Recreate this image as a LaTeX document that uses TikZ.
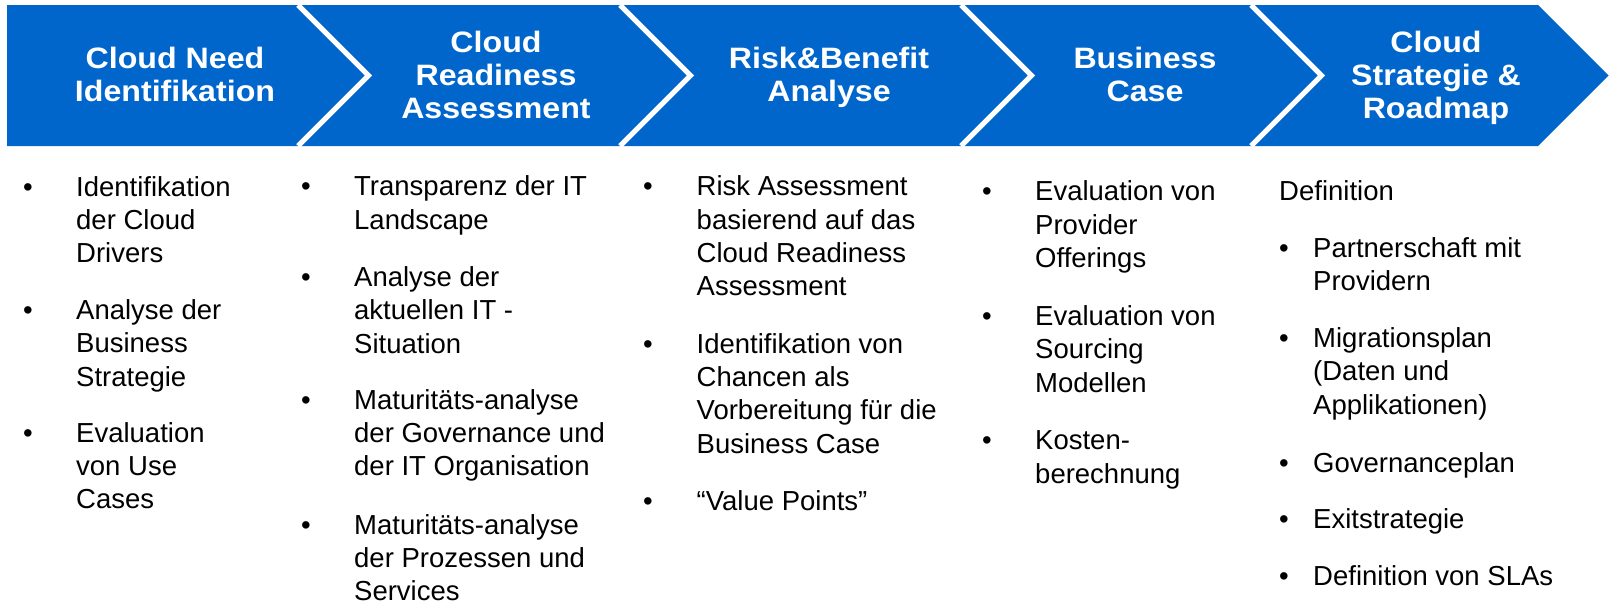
\documentclass[tikz,border=0pt]{standalone}
\usepackage{fontspec}
\setmainfont{Liberation Sans}
\newfontfamily\headfont[FakeStretch=1.09]{Liberation Sans}
\definecolor{chevblue}{RGB}{0,102,204}
\begin{document}
\begin{tikzpicture}[x=1pt,y=-1pt,
  head/.style={text=white, font=\headfont\fontsize{29.5}{33}\selectfont\bfseries, align=center, anchor=base, inner sep=0pt},
  item/.style={font=\fontsize{27.5}{33.4}\selectfont, align=left, anchor=base west, inner sep=0pt},
  dot/.style={font=\fontsize{27.5}{33.4}\selectfont, anchor=base, inner sep=0pt},
  sepline/.style={draw=white, line width=5pt}]
\useasboundingbox (0,0) rectangle (1613,605);
% chevron band
\fill[chevblue] (7,5) -- (1538,5) -- (1608.5,75.5) -- (1538,146) -- (7,146) -- cycle;
\foreach \x in {298,620,961,1251}
  \draw[sepline] (\x,5) -- (\x+70.5,75.5) -- (\x,146);
% headings (anchored at the baseline of their last line)
\node[head] (h1) at (175,101.5) {Cloud Need\\Identifikation};
\node[head] (h2) at (496,118) {Cloud\\Readiness\\Assessment};
\node[head] (h3) at (829,101.5) {Risk\&Benefit\\Analyse};
\node[head] (h4) at (1145,101.5) {Business\\Case};
\node[head] (h5) at (1436,118) {Cloud\\Strategie \&\\Roadmap};
% column 1
\node[dot] (b11) at (28,196) {•};
\node[item] (t11) at (76,262.8) {Identifikation\\der Cloud\\Drivers};
\node[dot] (b12) at (28,319.5) {•};
\node[item] (t12) at (76,386.3) {Analyse der\\Business\\Strategie};
\node[dot] (b13) at (28,442) {•};
\node[item] (t13) at (76,508.8) {Evaluation\\von Use\\Cases};
% column 2
\node[dot] (b21) at (306,195.7) {•};
\node[item] (t21) at (354,229.1) {Transparenz der IT\\Landscape};
\node[dot] (b22) at (306,286.2) {•};
\node[item] (t22) at (354,353) {Analyse der\\aktuellen IT -\\Situation};
\node[dot] (b23) at (306,409) {•};
\node[item] (t23) at (354,475.8) {Maturitäts-analyse\\der Governance und\\der IT Organisation};
\node[dot] (b24) at (306,534) {•};
\node[item] (t24) at (354,600.8) {Maturitäts-analyse\\der Prozessen und\\Services};
% column 3
\node[dot] (b31) at (648,195.7) {•};
\node[item] (t31) at (696.5,295.9) {Risk Assessment\\basierend auf das\\Cloud Readiness\\Assessment};
\node[dot] (b32) at (648,353.1) {•};
\node[item] (t32) at (696.5,453.3) {Identifikation von\\Chancen als\\Vorbereitung für die\\Business Case};
\node[dot] (b33) at (648,510.5) {•};
\node[item] (t33) at (696.5,510.5) {“Value Points”};
% column 4
\node[dot] (b41) at (987,200.8) {•};
\node[item] (t41) at (1035,267.6) {Evaluation von\\Provider\\Offerings};
\node[dot] (b42) at (987,325.3) {•};
\node[item] (t42) at (1035,392.1) {Evaluation von\\Sourcing\\Modellen};
\node[dot] (b43) at (987,449.8) {•};
\node[item] (t43) at (1035,483.2) {Kosten-\\berechnung};
% column 5
\node[item] (t50) at (1279,200.7) {Definition};
\node[dot] (b51) at (1284,257.3) {•};
\node[item] (t51) at (1313,290.7) {Partnerschaft mit\\Providern};
\node[dot] (b52) at (1284,347.5) {•};
\node[item] (t52) at (1313,414.3) {Migrationsplan\\(Daten und\\Applikationen)};
\node[dot] (b53) at (1284,472) {•};
\node[item] (t53) at (1313,472) {Governanceplan};
\node[dot] (b54) at (1284,528) {•};
\node[item] (t54) at (1313,528) {Exitstrategie};
\node[dot] (b55) at (1284,585.5) {•};
\node[item] (t55) at (1313,585.5) {Definition von SLAs};
\end{tikzpicture}
\end{document}
